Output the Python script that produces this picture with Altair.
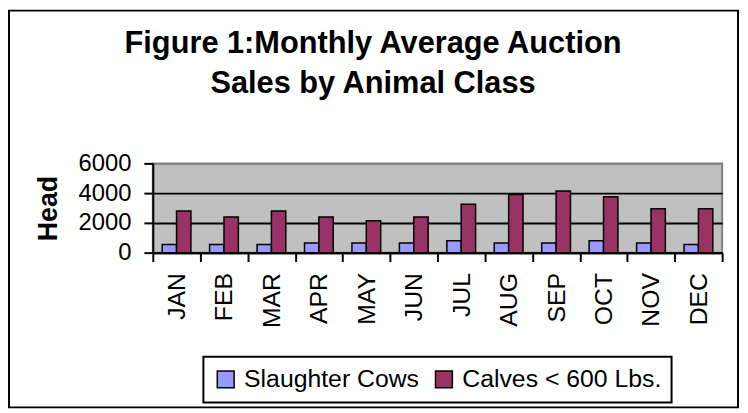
import altair as alt
import pandas as pd

months = ["JAN", "FEB", "MAR", "APR", "MAY", "JUN", "JUL", "AUG", "SEP", "OCT", "NOV", "DEC"]
slaughter_cows = [550, 550, 550, 650, 650, 650, 800, 650, 650, 800, 650, 550]
calves_under_600 = [2800, 2400, 2800, 2400, 2150, 2400, 3250, 3900, 4150, 3750, 2950, 2950]
series = ["Slaughter Cows", "Calves < 600 Lbs."]
colors = ["#9999FF", "#993366"]
y_ticks = [0, 2000, 4000, 6000]
title_lines = ["Figure 1:Monthly Average Auction", "Sales by Animal Class"]
y_title = "Head"

FONT = "Liberation Sans, Arial, sans-serif"

df = pd.DataFrame({
    "month": months * 2,
    "series": [series[0]] * len(months) + [series[1]] * len(months),
    "head": slaughter_cows + calves_under_600,
})

bars = alt.Chart(df).mark_bar(stroke="black", strokeWidth=1.5).encode(
    x=alt.X(
        "month:N", sort=months,
        scale=alt.Scale(paddingInner=0, paddingOuter=0),
        axis=alt.Axis(
            title=None, labelAngle=270, tickBand="extent", tickSize=9, tickWidth=2,
            tickColor="black", domainColor="black", domainWidth=2,
            labelFont=FONT, labelFontSize=25, labelColor="black", labelPadding=11,
            grid=False,
        ),
    ),
    xOffset=alt.XOffset("series:N", sort=series,
                        scale=alt.Scale(paddingInner=0, paddingOuter=0.65)),
    y=alt.Y(
        "head:Q",
        scale=alt.Scale(domain=[0, 6000], nice=False),
        axis=alt.Axis(
            title=y_title, values=y_ticks, format="d", tickSize=9, tickWidth=2,
            tickColor="black", domainColor="black", domainWidth=2, labelFont=FONT,
            labelFontSize=24, labelColor="black", labelPadding=13, grid=True,
            gridColor={"condition": {"test": "datum.value >= 6000", "value": "#808080"}, "value": "black"},
            gridWidth=2, titleFont=FONT, titleFontSize=27, titleFontWeight="bold",
            titleColor="black", titlePadding=16,
        ),
    ),
    color=alt.Color(
        "series:N", sort=series,
        scale=alt.Scale(domain=series, range=colors),
        legend=alt.Legend(
            title=None, orient="none", legendX=51, legendY=195, direction="horizontal",
            symbolType="square", symbolSize=289, symbolStrokeColor="black",
            symbolStrokeWidth=1.5, labelFont=FONT, labelFontSize=25, labelColor="black",
            labelOffset=6, labelLimit=0, columnPadding=12, padding=10,
            strokeColor="black", fillColor="white",
        ),
    ),
)

border = alt.Chart(pd.DataFrame({"k": [0]})).mark_rect(
    fillOpacity=0, stroke="black", strokeWidth=2
).encode(
    x=alt.value(-145), x2=alt.value(590), y=alt.value(-154), y2=alt.value(246)
)

chart = alt.layer(border, bars).properties(
    width=574,
    height=90,
    title=alt.TitleParams(
        text=title_lines, font="Liberation Sans, Arial", fontSize=31,
        fontWeight="bold", color="black", anchor="middle", dx=-65, offset=30,
        baseline="alphabetic", dy=145, lineHeight=40,
    ),
    autosize=alt.AutoSizeParams(type="none"),
    padding={"left": 146, "top": 155, "right": 18, "bottom": 158},
).configure_view(
    fill="#C0C0C0", stroke="#808080", strokeWidth=2
).configure_legend(
    strokeWidth=2
)

chart.save("out.html", embed_options={"renderer": "svg", "actions": False})
